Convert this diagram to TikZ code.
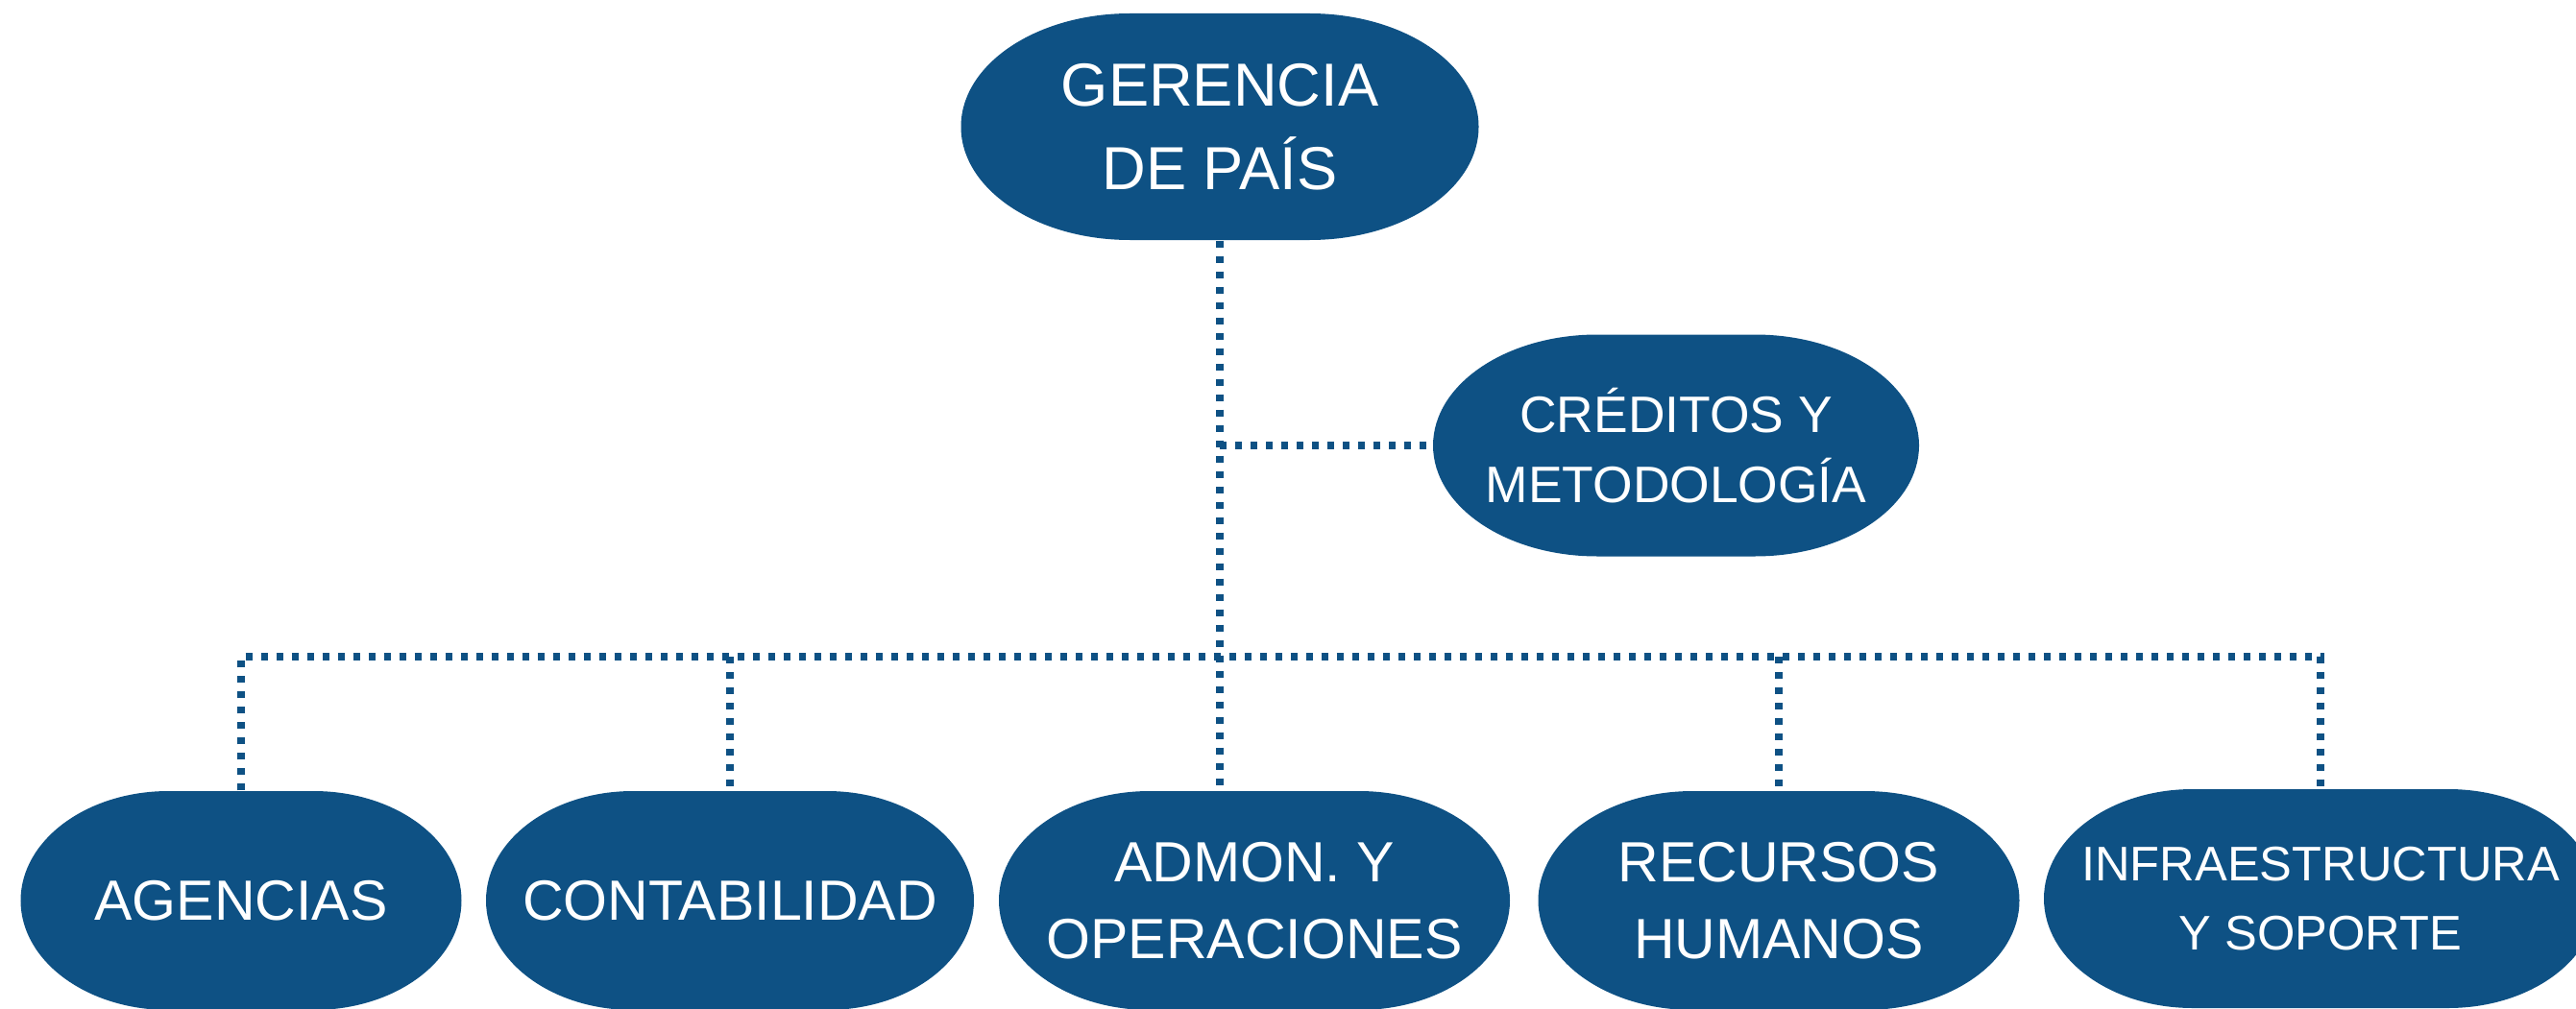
\documentclass[tikz,border=0pt]{standalone}
\usepackage{fontspec}
\setmainfont{Liberation Sans}
\usepackage{xcolor}
\usetikzlibrary{calc,positioning}

\definecolor{orgblue}{RGB}{14,81,132}

\tikzset{
  pill/.style n args={3}{minimum width=#1cm, minimum height=#2cm, inner sep=0pt,
    text=white, align=center,
    path picture={\fill[orgblue] ([xshift=#3cm]path picture bounding box.north west)
      -- ([xshift=-#3cm]path picture bounding box.north east)
      arc[start angle=90, end angle=-90, x radius=#3cm, y radius=#2cm/2]
      -- ([xshift=#3cm]path picture bounding box.south west)
      arc[start angle=270, end angle=90, x radius=#3cm, y radius=#2cm/2] -- cycle;}},
  link/.style={orgblue, line width=0.073cm, line cap=butt,
    dash pattern=on 0.073cm off 0.087cm},
}

\begin{document}
\begin{tikzpicture}
    \useasboundingbox (0,0) rectangle (26.82,-10.51);
    % Draw the top and the side unit
    \node[pill={5.39}{2.36}{1.76}, font=\fontsize{18}{24.8}\selectfont] (ger) at (12.70,-1.32) {GERENCIA\\DE PAÍS};
    \node[pill={5.06}{2.31}{1.71}, font=\fontsize{15.2}{20.9}\selectfont] (cred) at (17.45,-4.64) {CRÉDITOS Y\\METODOLOGÍA};
    % Draw the five units in a row
    \node[pill={4.59}{2.28}{1.54}, font=\fontsize{16.8}{22.8}\selectfont] (ag) at (2.51,-9.38) {AGENCIAS};
    \node[pill={5.08}{2.28}{1.53}, font=\fontsize{16.8}{22.8}\selectfont] (cont) at (7.60,-9.38) {CONTABILIDAD};
    \node[pill={5.32}{2.28}{1.57}, font=\fontsize{16.8}{22.8}\selectfont] (adm) at (13.06,-9.38) {ADMON. Y\\OPERACIONES};
    \node[pill={5.01}{2.28}{1.61}, font=\fontsize{16.8}{22.8}\selectfont] (rec) at (18.52,-9.38) {RECURSOS\\HUMANOS};
    \node[pill={5.76}{2.28}{1.55}, font=\fontsize{14.4}{20.5}\selectfont] (inf) at (24.16,-9.36) {INFRAESTRUCTURA\\Y SOPORTE};
    % Draw the dotted links
    \coordinate (bus) at (12.70,-6.84);
    \draw[link] (ger.south) -- (ger.south |- adm.north);
    \draw[link] (ger.south |- cred.west) -- (cred.west);
    \draw[link] (ag.north) -- (ag.north |- bus) -- (inf.north |- bus) -- (inf.north);
    \foreach \n in {cont,rec} {
        \draw[link] (\n.north |- bus) -- (\n.north);
    }
\end{tikzpicture}
\end{document}
